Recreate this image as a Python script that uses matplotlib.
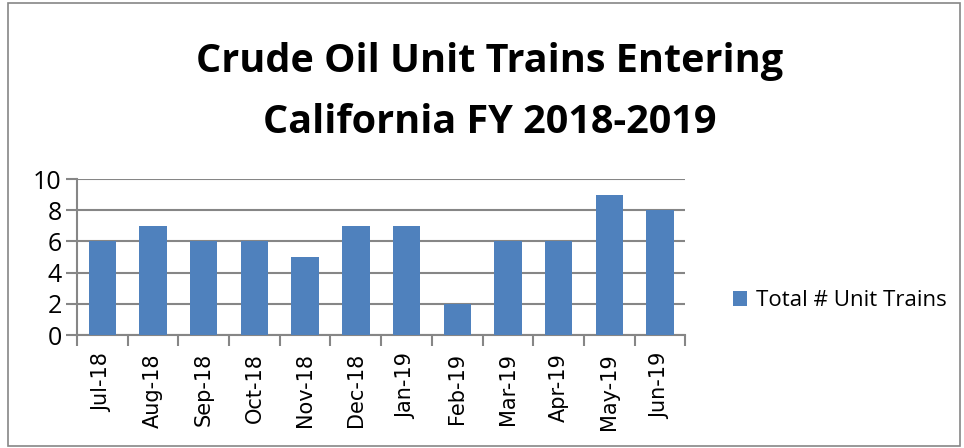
import matplotlib.pyplot as plt
from matplotlib.patches import Rectangle
import numpy as np

# Chart data
months = ["Jul-18", "Aug-18", "Sep-18", "Oct-18", "Nov-18", "Dec-18",
          "Jan-19", "Feb-19", "Mar-19", "Apr-19", "May-19", "Jun-19"]
unit_trains = [6, 7, 6, 6, 5, 7, 7, 2, 6, 6, 9, 8]
y_ticks = [0, 2, 4, 6, 8, 10]

bar_color = "#4F81BD"
grid_color = "#868686"

fig = plt.figure(figsize=(9.64, 4.48), dpi=100)
ax = fig.add_axes([0.0799, 0.2522, 0.631, 0.348])

x = np.arange(len(months))
ax.bar(x, unit_trains, width=0.54, color=bar_color, label="Total # Unit Trains",
       zorder=3)

ax.set_xlim(-0.5, len(months) - 0.5)
ax.set_ylim(0, 10)
ax.set_yticks(y_ticks)
ax.set_yticklabels([str(v) for v in y_ticks], fontsize=18, family="Open Sans")
ax.tick_params(axis="y", length=8, width=1.5, color=grid_color, pad=3)

# category labels centred, tick marks between categories
ax.set_xticks(x)
ax.set_xticklabels(months, rotation=90, fontsize=15, family="DejaVu Sans")
ax.tick_params(axis="x", which="major", length=0, pad=13)
ax.set_xticks(np.arange(-0.5, len(months)), minor=True)
ax.tick_params(axis="x", which="minor", length=8, width=1.5, color=grid_color)

ax.yaxis.grid(True, color=grid_color, linewidth=1.5, zorder=0)
for side in ["top", "right"]:
    ax.spines[side].set_visible(False)
for side in ["left", "bottom"]:
    ax.spines[side].set_color(grid_color)
    ax.spines[side].set_linewidth(1.5)

fig.text(0.508, 0.862, "Crude Oil Unit Trains Entering", ha="center", va="center",
         fontsize=28.5, fontweight="bold", family="Open Sans")
fig.text(0.508, 0.727, "California FY 2018-2019", ha="center", va="center",
         fontsize=28.5, fontweight="bold", family="Open Sans")

ax.legend(loc="center left", bbox_to_anchor=(1.045, 0.22), frameon=False,
          prop={"family": "Open Sans", "size": 16}, handlelength=0.65,
          handleheight=0.65, handletextpad=0.4)

# chart area border
fig.patches.append(Rectangle((0.008, 0.004), 0.988, 0.99, transform=fig.transFigure,
                             fill=False, edgecolor="#868686", linewidth=1.2))

fig.savefig("out.png", dpi=100)
